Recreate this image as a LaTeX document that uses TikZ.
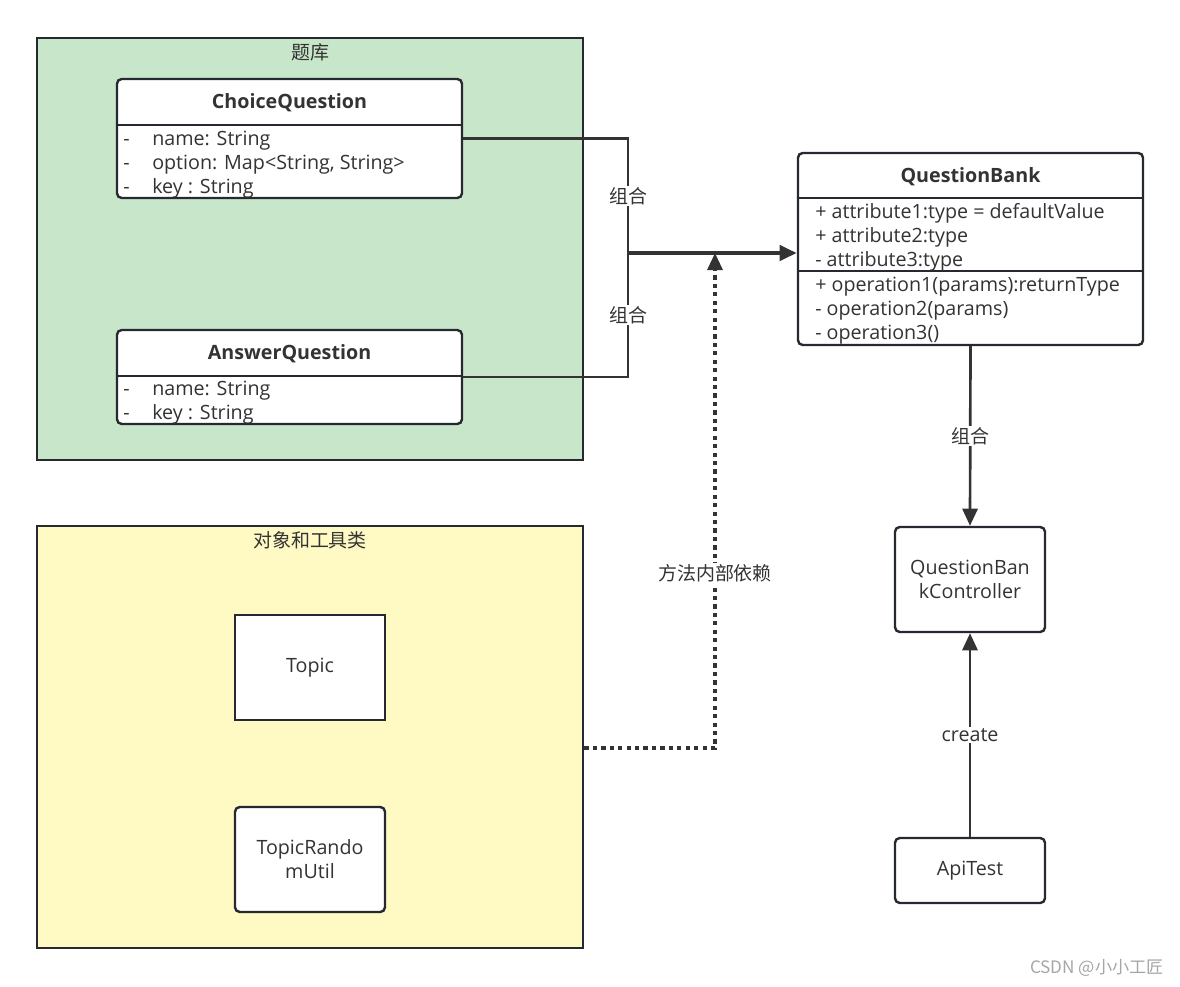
\documentclass[tikz,border=0pt]{standalone}
\usepackage{fontspec}
\setmainfont{Open Sans}
\newfontfamily\cjk{Noto Sans CJK SC}
\usetikzlibrary{arrows.meta}
\definecolor{bordercol}{HTML}{262A30}
\definecolor{linecol}{HTML}{333333}
\definecolor{bankgreen}{HTML}{C8E6C9}
\definecolor{toolyellow}{HTML}{FFF9C4}
\tikzset{
  groupbox/.style={draw=bordercol, line width=1.9pt, minimum width=13.65cm, minimum height=10.55cm, inner sep=0pt},
  umlclass/.style={draw=bordercol, fill=white, line width=1.7pt, rounded corners=1.2mm, minimum width=8.625cm, inner sep=0pt},
  plainclass/.style={draw=bordercol, fill=white, line width=1.7pt, rounded corners=1.2mm, minimum width=3.75cm, minimum height=2.625cm, align=center, text=linecol, font=\fontsize{14}{17}\selectfont},
  classtitle/.style={inner sep=0pt, text=linecol, font=\fontsize{14}{17}\selectfont\bfseries},
  member/.style={anchor=west, inner sep=0pt, text=linecol, font=\fontsize{14}{17}\selectfont},
  grouplbl/.style={inner sep=0pt, text=linecol, font=\cjk\fontsize{13.5}{16}\selectfont},
  link/.style={draw=linecol, line width=1.9pt},
  comp/.style={link, -{Triangle[length=4.3mm, width=3.8mm]}},
  lbl/.style={fill=white, inner sep=1pt, text=linecol, font=\cjk\fontsize{13.5}{16}\selectfont},
}
\begin{document}
\begin{tikzpicture}[x=0.025cm, y=-0.025cm]
\fill[white] (0,0) rectangle (1180,987);
\useasboundingbox (0,0) rectangle (1180,987);
%
% Groupes
\node[groupbox, fill=bankgreen]  (bank)  at (310,249) {};
\node[groupbox, fill=toolyellow] (tools) at (310,737) {};
\node[grouplbl] (bank-lbl)  at (310,52)  {题库};
\node[grouplbl] (tools-lbl) at (310,540) {对象和工具类};
%
% ChoiceQuestion
\node[umlclass, minimum height=2.975cm] (cq) at (289.5,138.5) {};
\node[classtitle] (cq-t) at (289.5,103) {ChoiceQuestion};
\draw[link, draw=bordercol] (cq.west |- 0,125) -- (cq.east |- 0,125);
\foreach \m [count=\i] in {name: String, {option: Map<String, String>}, key : String}
  \node[member] (cq-m\i) at (123,116.5+24*\i) {\makebox[0.725cm][l]{-}\m};
%
% AnswerQuestion
\node[umlclass, minimum height=2.35cm] (aq) at (289.5,377) {};
\node[classtitle] (aq-t) at (289.5,354) {AnswerQuestion};
\draw[link, draw=bordercol] (aq.west |- 0,376) -- (aq.east |- 0,376);
\foreach \m [count=\i] in {name: String, key : String}
  \node[member] (aq-m\i) at (123,366.5+24*\i) {\makebox[0.725cm][l]{-}\m};
%
% QuestionBank
\node[umlclass, minimum height=4.8cm] (qb) at (970.5,249) {};
\node[classtitle] (qb-t) at (970.5,177) {QuestionBank};
\draw[link, draw=bordercol] (qb.west |- 0,198) -- (qb.east |- 0,198);
\draw[link, draw=bordercol] (qb.west |- 0,271) -- (qb.east |- 0,271);
\foreach \m [count=\i] in {+ attribute1:type = defaultValue, + attribute2:type, - attribute3:type}
  \node[member] (qb-a\i) at (815,189+24*\i) {\m};
\foreach \m [count=\i] in {+ operation1(params):returnType, - operation2(params), - operation3()}
  \node[member] (qb-o\i) at (815,263+24*\i) {\m};
%
% Autres classes
\node[plainclass, rounded corners=0pt] (topic) at (310,667.5) {Topic};
\node[plainclass] (util) at (310,859.5) {TopicRando\\mUtil};
\node[plainclass] (ctrl) at (970,579.5) {QuestionBan\\kController};
\node[plainclass, minimum height=1.625cm] (api) at (970,870.5) {ApiTest};
%
% Liens
\coordinate (junc) at (628,253);
\coordinate (dep)  at (715,253);
\draw[link] (cq.east) -| node[lbl, pos=0.75] {组合} (junc);
\draw[link] (aq.east) -| node[lbl, pos=0.75] {组合} (junc);
\draw[comp, line width=3pt] (junc) -- (junc -| qb.west);
\draw[comp, line width=2.2pt, dash pattern=on 3pt off 3pt] ([yshift=-0.275cm]tools.east) -| node[lbl, pos=0.677] {方法内部依赖} (dep);
\draw[comp] (qb.south) -- node[lbl] {组合} (ctrl.north);
\draw[comp] (api.north) -- node[lbl, font=\fontsize{14}{17}\selectfont] {create} (ctrl.south);
%
\node[text=gray!70, font=\cjk\fontsize{12.2}{14}\selectfont] (mark) at (1097,968) {CSDN @小小工匠};
\end{tikzpicture}
\end{document}
